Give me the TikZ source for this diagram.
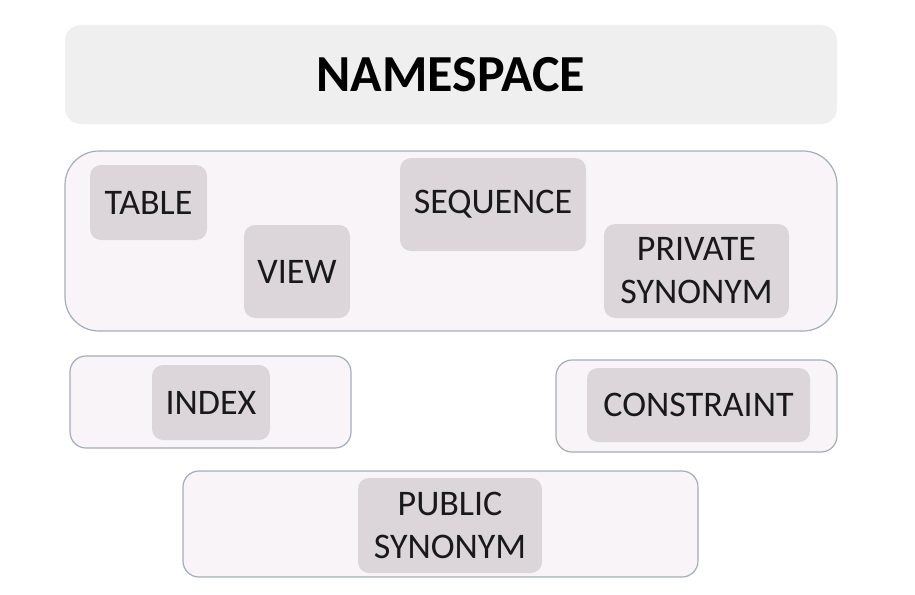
\documentclass[tikz,border=0pt]{standalone}
\usepackage{fontspec}
\setmainfont{Carlito}
\definecolor{titlefill}{HTML}{F0EFF0}
\definecolor{groupfill}{HTML}{F8F4F8}
\definecolor{groupline}{HTML}{A3AEBC}
\definecolor{itemfill}{HTML}{DCD5DA}
\begin{document}
\begin{tikzpicture}[x=1pt,y=-1pt,
  group/.style={draw=groupline, line width=1.2pt, fill=groupfill, rounded corners=#1},
  item/.style={fill=itemfill, rounded corners=11pt, inner sep=0pt, font=\fontsize{36}{43}\selectfont, align=center, text=black!90},
]
\useasboundingbox[fill=white] (0,0) rectangle (915,594);
% title
\node[fill=titlefill, rounded corners=16pt, minimum width=772pt, minimum height=99pt, inner sep=0pt, font=\fontsize{52}{60}\bfseries\selectfont] (title) at (451,74.5) {NAMESPACE};
% groups
\node[group=34pt, minimum width=772pt, minimum height=180pt, inner sep=0pt] (g1) at (451,241) {};
\node[group=16pt, minimum width=281pt, minimum height=92pt, inner sep=0pt] (g2) at (210.5,402) {};
\node[group=16pt, minimum width=281pt, minimum height=92pt, inner sep=0pt] (g3) at (696.5,406) {};
\node[group=16pt, minimum width=515pt, minimum height=106pt, inner sep=0pt] (g4) at (440.5,524) {};
% items
\node[item, minimum width=117pt, minimum height=75pt] (table) at (148.5,202.5) {TABLE};
\node[item, minimum width=106pt, minimum height=93pt] (view) at (297,271.5) {VIEW};
\node[item, minimum width=186pt, minimum height=93pt] (seq) at (493,204.5) {SEQUENCE};
\node[item, minimum width=185pt, minimum height=94pt] (priv) at (696.5,271) {PRIVATE\\SYNONYM};
\node[item, minimum width=118pt, minimum height=75pt] (index) at (211,402.5) {INDEX};
\node[item, minimum width=223pt, minimum height=74pt] (cons) at (698.5,405) {CONSTRAINT};
\node[item, minimum width=184pt, minimum height=95pt] (pub) at (450,525.5) {PUBLIC\\SYNONYM};
\end{tikzpicture}
\end{document}
